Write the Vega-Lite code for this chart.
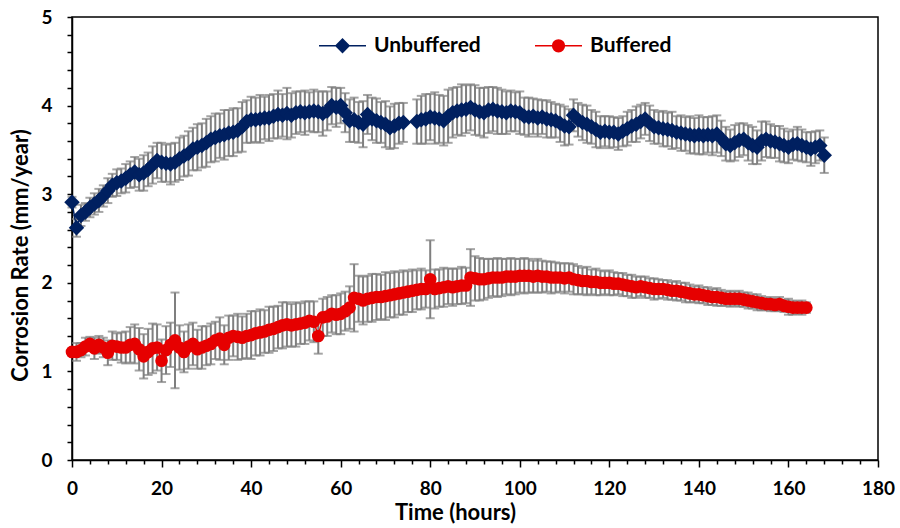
{
"$schema": "https://vega.github.io/schema/vega-lite/v6.json",
"width": 806, "height": 443,
"autosize": {"type": "none"},
"padding": {"left": 72, "top": 17, "right": 22, "bottom": 68},
"background": "white",
"config": {"view": {"stroke": "#000000", "strokeWidth": 1.5}, "font": "Lato"},
"data": {"values": [
{"s":"Unbuffered","t":0,"v":2.91,"e":0.06},{"s":"Unbuffered","t":1,"v":2.62,"e":0.10},{"s":"Unbuffered","t":2,"v":2.76,"e":0.12},{"s":"Unbuffered","t":3,"v":2.80,"e":0.10},{"s":"Unbuffered","t":4,"v":2.85,"e":0.11},{"s":"Unbuffered","t":5,"v":2.89,"e":0.12},{"s":"Unbuffered","t":6,"v":2.93,"e":0.13},{"s":"Unbuffered","t":7,"v":2.98,"e":0.12},{"s":"Unbuffered","t":8,"v":3.04,"e":0.14},{"s":"Unbuffered","t":9,"v":3.10,"e":0.13},
{"s":"Unbuffered","t":10,"v":3.13,"e":0.15},{"s":"Unbuffered","t":11,"v":3.15,"e":0.14},{"s":"Unbuffered","t":12,"v":3.18,"e":0.16},{"s":"Unbuffered","t":13,"v":3.22,"e":0.15},{"s":"Unbuffered","t":14,"v":3.25,"e":0.17},{"s":"Unbuffered","t":15,"v":3.22,"e":0.18},{"s":"Unbuffered","t":16,"v":3.24,"e":0.20},{"s":"Unbuffered","t":17,"v":3.28,"e":0.19},{"s":"Unbuffered","t":18,"v":3.33,"e":0.21},{"s":"Unbuffered","t":19,"v":3.38,"e":0.20},
{"s":"Unbuffered","t":20,"v":3.36,"e":0.22},{"s":"Unbuffered","t":21,"v":3.35,"e":0.21},{"s":"Unbuffered","t":22,"v":3.34,"e":0.23},{"s":"Unbuffered","t":23,"v":3.36,"e":0.22},{"s":"Unbuffered","t":24,"v":3.40,"e":0.24},{"s":"Unbuffered","t":25,"v":3.43,"e":0.23},{"s":"Unbuffered","t":26,"v":3.46,"e":0.25},{"s":"Unbuffered","t":27,"v":3.51,"e":0.24},{"s":"Unbuffered","t":28,"v":3.53,"e":0.26},{"s":"Unbuffered","t":29,"v":3.55,"e":0.25},
{"s":"Unbuffered","t":30,"v":3.58,"e":0.27},{"s":"Unbuffered","t":31,"v":3.62,"e":0.26},{"s":"Unbuffered","t":32,"v":3.64,"e":0.27},{"s":"Unbuffered","t":33,"v":3.66,"e":0.25},{"s":"Unbuffered","t":34,"v":3.67,"e":0.28},{"s":"Unbuffered","t":35,"v":3.69,"e":0.26},{"s":"Unbuffered","t":36,"v":3.70,"e":0.27},{"s":"Unbuffered","t":37,"v":3.72,"e":0.25},{"s":"Unbuffered","t":38,"v":3.76,"e":0.28},{"s":"Unbuffered","t":39,"v":3.82,"e":0.24},
{"s":"Unbuffered","t":40,"v":3.84,"e":0.26},{"s":"Unbuffered","t":41,"v":3.84,"e":0.25},{"s":"Unbuffered","t":42,"v":3.85,"e":0.27},{"s":"Unbuffered","t":43,"v":3.86,"e":0.24},{"s":"Unbuffered","t":44,"v":3.86,"e":0.26},{"s":"Unbuffered","t":45,"v":3.88,"e":0.25},{"s":"Unbuffered","t":46,"v":3.90,"e":0.27},{"s":"Unbuffered","t":47,"v":3.89,"e":0.24},{"s":"Unbuffered","t":48,"v":3.91,"e":0.29},{"s":"Unbuffered","t":49,"v":3.89,"e":0.25},
{"s":"Unbuffered","t":50,"v":3.92,"e":0.24},{"s":"Unbuffered","t":51,"v":3.93,"e":0.23},{"s":"Unbuffered","t":52,"v":3.92,"e":0.25},{"s":"Unbuffered","t":53,"v":3.93,"e":0.22},{"s":"Unbuffered","t":54,"v":3.94,"e":0.24},{"s":"Unbuffered","t":55,"v":3.93,"e":0.23},{"s":"Unbuffered","t":56,"v":3.91,"e":0.25},{"s":"Unbuffered","t":57,"v":3.94,"e":0.22},{"s":"Unbuffered","t":58,"v":4.00,"e":0.21},{"s":"Unbuffered","t":59,"v":3.98,"e":0.22},
{"s":"Unbuffered","t":60,"v":4.00,"e":0.20},{"s":"Unbuffered","t":61,"v":3.92,"e":0.22},{"s":"Unbuffered","t":62,"v":3.83,"e":0.24},{"s":"Unbuffered","t":63,"v":3.84,"e":0.25},{"s":"Unbuffered","t":64,"v":3.81,"e":0.23},{"s":"Unbuffered","t":65,"v":3.79,"e":0.26},{"s":"Unbuffered","t":66,"v":3.90,"e":0.22},{"s":"Unbuffered","t":67,"v":3.85,"e":0.24},{"s":"Unbuffered","t":68,"v":3.83,"e":0.25},{"s":"Unbuffered","t":69,"v":3.81,"e":0.23},
{"s":"Unbuffered","t":70,"v":3.79,"e":0.26},{"s":"Unbuffered","t":71,"v":3.75,"e":0.24},{"s":"Unbuffered","t":72,"v":3.77,"e":0.25},{"s":"Unbuffered","t":73,"v":3.80,"e":0.23},{"s":"Unbuffered","t":74,"v":3.81,"e":0.22},{"s":"Unbuffered","t":77,"v":3.82,"e":0.25},{"s":"Unbuffered","t":78,"v":3.84,"e":0.27},{"s":"Unbuffered","t":79,"v":3.85,"e":0.28},
{"s":"Unbuffered","t":80,"v":3.87,"e":0.26},{"s":"Unbuffered","t":81,"v":3.86,"e":0.29},{"s":"Unbuffered","t":82,"v":3.85,"e":0.27},{"s":"Unbuffered","t":83,"v":3.83,"e":0.28},{"s":"Unbuffered","t":84,"v":3.88,"e":0.30},{"s":"Unbuffered","t":85,"v":3.92,"e":0.28},{"s":"Unbuffered","t":86,"v":3.94,"e":0.27},{"s":"Unbuffered","t":87,"v":3.95,"e":0.29},{"s":"Unbuffered","t":88,"v":3.96,"e":0.27},{"s":"Unbuffered","t":89,"v":3.98,"e":0.26},
{"s":"Unbuffered","t":90,"v":3.95,"e":0.28},{"s":"Unbuffered","t":91,"v":3.93,"e":0.27},{"s":"Unbuffered","t":92,"v":3.92,"e":0.28},{"s":"Unbuffered","t":93,"v":3.95,"e":0.26},{"s":"Unbuffered","t":94,"v":3.96,"e":0.25},{"s":"Unbuffered","t":95,"v":3.94,"e":0.26},{"s":"Unbuffered","t":96,"v":3.93,"e":0.25},{"s":"Unbuffered","t":97,"v":3.92,"e":0.24},{"s":"Unbuffered","t":98,"v":3.94,"e":0.23},{"s":"Unbuffered","t":99,"v":3.93,"e":0.22},
{"s":"Unbuffered","t":100,"v":3.92,"e":0.24},{"s":"Unbuffered","t":101,"v":3.88,"e":0.21},{"s":"Unbuffered","t":102,"v":3.87,"e":0.22},{"s":"Unbuffered","t":103,"v":3.88,"e":0.20},{"s":"Unbuffered","t":104,"v":3.86,"e":0.21},{"s":"Unbuffered","t":105,"v":3.87,"e":0.19},{"s":"Unbuffered","t":106,"v":3.85,"e":0.21},{"s":"Unbuffered","t":107,"v":3.84,"e":0.20},{"s":"Unbuffered","t":108,"v":3.83,"e":0.19},{"s":"Unbuffered","t":109,"v":3.80,"e":0.21},
{"s":"Unbuffered","t":110,"v":3.77,"e":0.22},{"s":"Unbuffered","t":111,"v":3.76,"e":0.20},{"s":"Unbuffered","t":112,"v":3.89,"e":0.18},{"s":"Unbuffered","t":113,"v":3.84,"e":0.19},{"s":"Unbuffered","t":114,"v":3.81,"e":0.20},{"s":"Unbuffered","t":115,"v":3.79,"e":0.21},{"s":"Unbuffered","t":116,"v":3.76,"e":0.19},{"s":"Unbuffered","t":117,"v":3.73,"e":0.20},{"s":"Unbuffered","t":118,"v":3.70,"e":0.18},{"s":"Unbuffered","t":119,"v":3.71,"e":0.17},
{"s":"Unbuffered","t":120,"v":3.70,"e":0.18},{"s":"Unbuffered","t":121,"v":3.70,"e":0.17},{"s":"Unbuffered","t":122,"v":3.68,"e":0.18},{"s":"Unbuffered","t":123,"v":3.71,"e":0.17},{"s":"Unbuffered","t":124,"v":3.74,"e":0.19},{"s":"Unbuffered","t":125,"v":3.77,"e":0.18},{"s":"Unbuffered","t":126,"v":3.79,"e":0.20},{"s":"Unbuffered","t":127,"v":3.82,"e":0.19},{"s":"Unbuffered","t":128,"v":3.85,"e":0.18},{"s":"Unbuffered","t":129,"v":3.80,"e":0.20},
{"s":"Unbuffered","t":130,"v":3.76,"e":0.19},{"s":"Unbuffered","t":131,"v":3.75,"e":0.18},{"s":"Unbuffered","t":132,"v":3.74,"e":0.20},{"s":"Unbuffered","t":133,"v":3.73,"e":0.19},{"s":"Unbuffered","t":134,"v":3.72,"e":0.21},{"s":"Unbuffered","t":135,"v":3.70,"e":0.18},{"s":"Unbuffered","t":136,"v":3.69,"e":0.20},{"s":"Unbuffered","t":137,"v":3.68,"e":0.19},{"s":"Unbuffered","t":138,"v":3.67,"e":0.21},{"s":"Unbuffered","t":139,"v":3.66,"e":0.20},
{"s":"Unbuffered","t":140,"v":3.67,"e":0.22},{"s":"Unbuffered","t":141,"v":3.66,"e":0.21},{"s":"Unbuffered","t":142,"v":3.67,"e":0.20},{"s":"Unbuffered","t":143,"v":3.66,"e":0.22},{"s":"Unbuffered","t":144,"v":3.68,"e":0.21},{"s":"Unbuffered","t":145,"v":3.63,"e":0.20},{"s":"Unbuffered","t":146,"v":3.57,"e":0.19},{"s":"Unbuffered","t":147,"v":3.55,"e":0.18},{"s":"Unbuffered","t":148,"v":3.58,"e":0.20},{"s":"Unbuffered","t":149,"v":3.61,"e":0.19},
{"s":"Unbuffered","t":150,"v":3.62,"e":0.18},{"s":"Unbuffered","t":151,"v":3.58,"e":0.20},{"s":"Unbuffered","t":152,"v":3.55,"e":0.21},{"s":"Unbuffered","t":153,"v":3.53,"e":0.19},{"s":"Unbuffered","t":154,"v":3.60,"e":0.22},{"s":"Unbuffered","t":155,"v":3.62,"e":0.20},{"s":"Unbuffered","t":156,"v":3.60,"e":0.19},{"s":"Unbuffered","t":157,"v":3.59,"e":0.18},{"s":"Unbuffered","t":158,"v":3.57,"e":0.20},{"s":"Unbuffered","t":159,"v":3.55,"e":0.19},
{"s":"Unbuffered","t":160,"v":3.53,"e":0.18},{"s":"Unbuffered","t":161,"v":3.56,"e":0.17},{"s":"Unbuffered","t":162,"v":3.57,"e":0.19},{"s":"Unbuffered","t":163,"v":3.55,"e":0.18},{"s":"Unbuffered","t":164,"v":3.53,"e":0.17},{"s":"Unbuffered","t":165,"v":3.51,"e":0.19},{"s":"Unbuffered","t":166,"v":3.53,"e":0.18},{"s":"Unbuffered","t":167,"v":3.55,"e":0.17},{"s":"Unbuffered","t":168,"v":3.44,"e":0.20},
{"s":"Buffered","t":0,"v":1.22,"e":0.04},{"s":"Buffered","t":1,"v":1.22,"e":0.10},{"s":"Buffered","t":2,"v":1.24,"e":0.08},{"s":"Buffered","t":3,"v":1.28,"e":0.10},{"s":"Buffered","t":4,"v":1.31,"e":0.08},{"s":"Buffered","t":5,"v":1.26,"e":0.12},{"s":"Buffered","t":6,"v":1.30,"e":0.10},{"s":"Buffered","t":7,"v":1.27,"e":0.11},{"s":"Buffered","t":8,"v":1.21,"e":0.14},{"s":"Buffered","t":9,"v":1.29,"e":0.16},
{"s":"Buffered","t":10,"v":1.28,"e":0.15},{"s":"Buffered","t":11,"v":1.27,"e":0.17},{"s":"Buffered","t":12,"v":1.27,"e":0.18},{"s":"Buffered","t":13,"v":1.30,"e":0.20},{"s":"Buffered","t":14,"v":1.31,"e":0.22},{"s":"Buffered","t":15,"v":1.25,"e":0.24},{"s":"Buffered","t":16,"v":1.17,"e":0.25},{"s":"Buffered","t":17,"v":1.22,"e":0.26},{"s":"Buffered","t":18,"v":1.26,"e":0.28},{"s":"Buffered","t":19,"v":1.27,"e":0.26},
{"s":"Buffered","t":20,"v":1.12,"e":0.24},{"s":"Buffered","t":21,"v":1.24,"e":0.27},{"s":"Buffered","t":22,"v":1.30,"e":0.25},{"s":"Buffered","t":23,"v":1.35,"e":0.54},{"s":"Buffered","t":24,"v":1.27,"e":0.25},{"s":"Buffered","t":25,"v":1.22,"e":0.23},{"s":"Buffered","t":26,"v":1.28,"e":0.25},{"s":"Buffered","t":27,"v":1.31,"e":0.24},{"s":"Buffered","t":28,"v":1.25,"e":0.22},{"s":"Buffered","t":29,"v":1.27,"e":0.24},
{"s":"Buffered","t":30,"v":1.29,"e":0.22},{"s":"Buffered","t":31,"v":1.31,"e":0.23},{"s":"Buffered","t":32,"v":1.35,"e":0.21},{"s":"Buffered","t":33,"v":1.37,"e":0.24},{"s":"Buffered","t":34,"v":1.30,"e":0.22},{"s":"Buffered","t":35,"v":1.38,"e":0.25},{"s":"Buffered","t":36,"v":1.40,"e":0.23},{"s":"Buffered","t":37,"v":1.39,"e":0.26},{"s":"Buffered","t":38,"v":1.38,"e":0.24},{"s":"Buffered","t":39,"v":1.40,"e":0.25},
{"s":"Buffered","t":40,"v":1.41,"e":0.27},{"s":"Buffered","t":41,"v":1.43,"e":0.25},{"s":"Buffered","t":42,"v":1.44,"e":0.26},{"s":"Buffered","t":43,"v":1.45,"e":0.24},{"s":"Buffered","t":44,"v":1.47,"e":0.26},{"s":"Buffered","t":45,"v":1.48,"e":0.25},{"s":"Buffered","t":46,"v":1.50,"e":0.24},{"s":"Buffered","t":47,"v":1.52,"e":0.26},{"s":"Buffered","t":48,"v":1.53,"e":0.25},{"s":"Buffered","t":49,"v":1.52,"e":0.24},
{"s":"Buffered","t":50,"v":1.53,"e":0.25},{"s":"Buffered","t":51,"v":1.54,"e":0.23},{"s":"Buffered","t":52,"v":1.55,"e":0.24},{"s":"Buffered","t":53,"v":1.57,"e":0.22},{"s":"Buffered","t":54,"v":1.56,"e":0.23},{"s":"Buffered","t":55,"v":1.40,"e":0.20},{"s":"Buffered","t":56,"v":1.61,"e":0.21},{"s":"Buffered","t":57,"v":1.62,"e":0.22},{"s":"Buffered","t":58,"v":1.65,"e":0.21},{"s":"Buffered","t":59,"v":1.64,"e":0.22},
{"s":"Buffered","t":60,"v":1.65,"e":0.23},{"s":"Buffered","t":61,"v":1.68,"e":0.22},{"s":"Buffered","t":62,"v":1.72,"e":0.24},{"s":"Buffered","t":63,"v":1.83,"e":0.38},{"s":"Buffered","t":64,"v":1.82,"e":0.26},{"s":"Buffered","t":65,"v":1.80,"e":0.27},{"s":"Buffered","t":66,"v":1.82,"e":0.26},{"s":"Buffered","t":67,"v":1.83,"e":0.27},{"s":"Buffered","t":68,"v":1.84,"e":0.26},{"s":"Buffered","t":69,"v":1.84,"e":0.25},
{"s":"Buffered","t":70,"v":1.85,"e":0.27},{"s":"Buffered","t":71,"v":1.86,"e":0.25},{"s":"Buffered","t":72,"v":1.87,"e":0.26},{"s":"Buffered","t":73,"v":1.88,"e":0.24},{"s":"Buffered","t":74,"v":1.89,"e":0.25},{"s":"Buffered","t":75,"v":1.90,"e":0.23},{"s":"Buffered","t":76,"v":1.91,"e":0.24},{"s":"Buffered","t":77,"v":1.92,"e":0.22},{"s":"Buffered","t":78,"v":1.93,"e":0.23},{"s":"Buffered","t":79,"v":1.93,"e":0.21},
{"s":"Buffered","t":80,"v":2.04,"e":0.44},{"s":"Buffered","t":81,"v":1.93,"e":0.22},{"s":"Buffered","t":82,"v":1.94,"e":0.21},{"s":"Buffered","t":83,"v":1.95,"e":0.22},{"s":"Buffered","t":84,"v":1.96,"e":0.20},{"s":"Buffered","t":85,"v":1.95,"e":0.21},{"s":"Buffered","t":86,"v":1.96,"e":0.20},{"s":"Buffered","t":87,"v":1.97,"e":0.21},{"s":"Buffered","t":88,"v":1.97,"e":0.20},{"s":"Buffered","t":89,"v":2.06,"e":0.32},
{"s":"Buffered","t":90,"v":2.05,"e":0.25},{"s":"Buffered","t":91,"v":2.04,"e":0.24},{"s":"Buffered","t":92,"v":2.04,"e":0.23},{"s":"Buffered","t":93,"v":2.05,"e":0.22},{"s":"Buffered","t":94,"v":2.06,"e":0.21},{"s":"Buffered","t":95,"v":2.06,"e":0.22},{"s":"Buffered","t":96,"v":2.06,"e":0.21},{"s":"Buffered","t":97,"v":2.07,"e":0.20},{"s":"Buffered","t":98,"v":2.07,"e":0.21},{"s":"Buffered","t":99,"v":2.07,"e":0.20},
{"s":"Buffered","t":100,"v":2.08,"e":0.19},{"s":"Buffered","t":101,"v":2.08,"e":0.20},{"s":"Buffered","t":102,"v":2.08,"e":0.19},{"s":"Buffered","t":103,"v":2.07,"e":0.18},{"s":"Buffered","t":104,"v":2.08,"e":0.19},{"s":"Buffered","t":105,"v":2.07,"e":0.18},{"s":"Buffered","t":106,"v":2.07,"e":0.17},{"s":"Buffered","t":107,"v":2.06,"e":0.18},{"s":"Buffered","t":108,"v":2.06,"e":0.17},{"s":"Buffered","t":109,"v":2.06,"e":0.16},
{"s":"Buffered","t":110,"v":2.05,"e":0.17},{"s":"Buffered","t":111,"v":2.06,"e":0.16},{"s":"Buffered","t":112,"v":2.04,"e":0.17},{"s":"Buffered","t":113,"v":2.03,"e":0.16},{"s":"Buffered","t":114,"v":2.02,"e":0.15},{"s":"Buffered","t":115,"v":2.02,"e":0.16},{"s":"Buffered","t":116,"v":2.01,"e":0.14},{"s":"Buffered","t":117,"v":2.01,"e":0.15},{"s":"Buffered","t":118,"v":2.00,"e":0.14},{"s":"Buffered","t":119,"v":2.00,"e":0.13},
{"s":"Buffered","t":120,"v":2.00,"e":0.14},{"s":"Buffered","t":121,"v":1.99,"e":0.13},{"s":"Buffered","t":122,"v":1.99,"e":0.12},{"s":"Buffered","t":123,"v":1.98,"e":0.13},{"s":"Buffered","t":124,"v":1.97,"e":0.12},{"s":"Buffered","t":125,"v":1.96,"e":0.13},{"s":"Buffered","t":126,"v":1.95,"e":0.12},{"s":"Buffered","t":127,"v":1.96,"e":0.11},{"s":"Buffered","t":128,"v":1.95,"e":0.12},{"s":"Buffered","t":129,"v":1.94,"e":0.11},
{"s":"Buffered","t":130,"v":1.93,"e":0.12},{"s":"Buffered","t":131,"v":1.93,"e":0.11},{"s":"Buffered","t":132,"v":1.93,"e":0.10},{"s":"Buffered","t":133,"v":1.92,"e":0.11},{"s":"Buffered","t":134,"v":1.91,"e":0.10},{"s":"Buffered","t":135,"v":1.91,"e":0.11},{"s":"Buffered","t":136,"v":1.90,"e":0.10},{"s":"Buffered","t":137,"v":1.89,"e":0.11},{"s":"Buffered","t":138,"v":1.88,"e":0.10},{"s":"Buffered","t":139,"v":1.87,"e":0.09},
{"s":"Buffered","t":140,"v":1.87,"e":0.10},{"s":"Buffered","t":141,"v":1.86,"e":0.09},{"s":"Buffered","t":142,"v":1.85,"e":0.10},{"s":"Buffered","t":143,"v":1.84,"e":0.09},{"s":"Buffered","t":144,"v":1.84,"e":0.10},{"s":"Buffered","t":145,"v":1.83,"e":0.09},{"s":"Buffered","t":146,"v":1.82,"e":0.08},{"s":"Buffered","t":147,"v":1.82,"e":0.09},{"s":"Buffered","t":148,"v":1.82,"e":0.08},{"s":"Buffered","t":149,"v":1.82,"e":0.09},
{"s":"Buffered","t":150,"v":1.81,"e":0.08},{"s":"Buffered","t":151,"v":1.80,"e":0.09},{"s":"Buffered","t":152,"v":1.79,"e":0.08},{"s":"Buffered","t":153,"v":1.78,"e":0.09},{"s":"Buffered","t":154,"v":1.77,"e":0.08},{"s":"Buffered","t":155,"v":1.76,"e":0.07},{"s":"Buffered","t":156,"v":1.76,"e":0.08},{"s":"Buffered","t":157,"v":1.75,"e":0.07},{"s":"Buffered","t":158,"v":1.76,"e":0.08},{"s":"Buffered","t":159,"v":1.74,"e":0.07},
{"s":"Buffered","t":160,"v":1.73,"e":0.09},{"s":"Buffered","t":161,"v":1.72,"e":0.08},{"s":"Buffered","t":162,"v":1.72,"e":0.07},{"s":"Buffered","t":163,"v":1.72,"e":0.08},{"s":"Buffered","t":164,"v":1.72,"e":0.06}
]},
"encoding": {
  "x": {"field": "t", "type": "quantitative", "title": "Time (hours)",
    "scale": {"domain": [0, 180], "nice": false, "zero": true},
    "axis": {"values": [0,4,8,12,16,20,24,28,32,36,40,44,48,52,56,60,64,68,72,76,80,84,88,92,96,100,104,108,112,116,120,124,128,132,136,140,144,148,152,156,160,164,168,172,176,180],
      "labelExpr": "datum.value % 20 === 0 ? datum.label : ''",
      "tickSize": {"condition": {"test": "datum.value % 20 === 0", "value": 7}, "value": 4},
      "grid": false, "domainColor": "#000000", "domainWidth": 1.5, "tickColor": "#000000", "tickWidth": 1.5,
      "labelFont": "Lato", "labelFontSize": 19, "labelFontWeight": "bold", "labelColor": "#000000", "labelPadding": 12, "labelOverlap": false, "labelFlush": false,
      "titleFont": "Lato", "titleFontSize": 22, "titleFontWeight": "bold", "titleColor": "#000000", "titlePadding": 4, "titleX": 383}},
  "y": {"field": "v", "type": "quantitative", "title": "Corrosion Rate (mm/year)",
    "scale": {"domain": [0, 5], "nice": false, "zero": true},
    "axis": {"values": [0,0.2,0.4,0.6,0.8,1,1.2,1.4,1.6,1.8,2,2.2,2.4,2.6,2.8,3,3.2,3.4,3.6,3.8,4,4.2,4.4,4.6,4.8,5],
      "labelExpr": "datum.value % 1 === 0 ? format(datum.value, 'd') : ''",
      "tickSize": 5,
      "grid": false, "domainColor": "#000000", "domainWidth": 1.5, "tickColor": "#000000", "tickWidth": 1.5,
      "labelFont": "Lato", "labelFontSize": 19, "labelFontWeight": "bold", "labelColor": "#000000", "labelPadding": 15, "labelOverlap": false, "labelFlush": false,
      "titleFont": "Lato", "titleFontSize": 22, "titleFontWeight": "bold", "titleColor": "#000000", "titlePadding": 8, "titleY": 238}}
},
"layer": [
  {"mark": {"type": "errorbar", "color": "#7f7f7f", "ticks": {"size": 9, "thickness": 2, "color": "#7f7f7f"}, "rule": {"strokeWidth": 2, "color": "#7f7f7f"}},
   "encoding": {"yError": {"field": "e"}, "detail": {"field": "s", "type": "nominal"}}},
  {"mark": {"type": "line", "strokeWidth": 1.5},
   "encoding": {"color": {"field": "s", "type": "nominal",
     "scale": {"domain": ["Unbuffered", "Buffered"], "range": ["#002060", "#e60000"]},
     "legend": {"orient": "none", "legendX": 246, "legendY": 4, "direction": "horizontal", "title": null,
       "symbolSize": 2209, "labelFont": "Lato", "labelFontSize": 21, "labelFontWeight": "bold", "labelColor": "#000000",
       "labelOffset": 7, "columnPadding": 51, "symbolStrokeWidth": 1.5,
       "encode": {"symbols": {"update": {
         "shape": {"signal": "datum.value === 'Unbuffered' ? 'M-1,0L1,0M-0.28,0L0,-0.28L0.28,0L0,0.28Z' : 'M-1,0L1,0M0.25,0A0.25,0.25,0,1,1,-0.25,0A0.25,0.25,0,1,1,0.25,0Z'"},
         "fill": {"scale": "color", "field": "value"},
         "stroke": {"scale": "color", "field": "value"},
         "strokeWidth": {"value": 1.5},
         "opacity": {"value": 1}, "fillOpacity": {"value": 1}, "strokeOpacity": {"value": 1}}}}}}}},
  {"transform": [{"filter": {"field": "s", "equal": "Unbuffered"}}],
   "mark": {"type": "point", "shape": "diamond", "filled": true, "opacity": 1, "color": "#002060", "size": 240}},
  {"transform": [{"filter": {"field": "s", "equal": "Buffered"}}],
   "mark": {"type": "point", "shape": "circle", "filled": true, "opacity": 1, "color": "#e60000", "size": 160}}
]
}
